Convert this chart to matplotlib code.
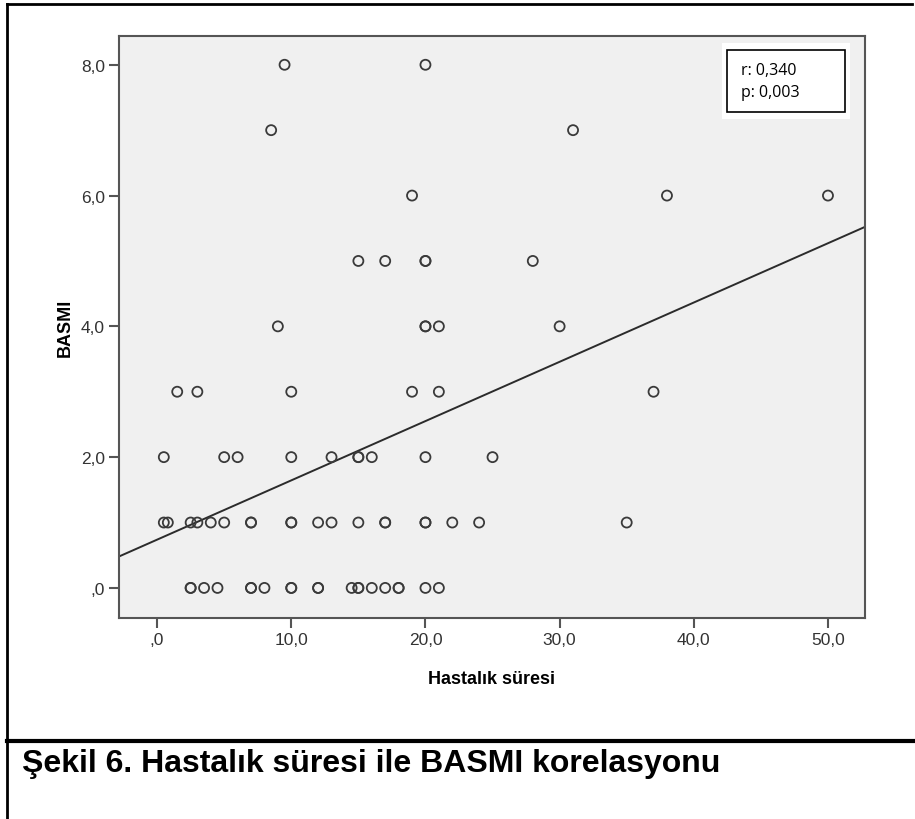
import numpy as np
import matplotlib
matplotlib.use("Agg")
import matplotlib.pyplot as plt
from matplotlib.lines import Line2D

# data (Hastalik suresi vs BASMI)
basmi_8 = [9.5, 20]
basmi_7 = [8.5, 31]
basmi_6 = [19, 38, 50]
basmi_5 = [15, 17, 20, 20, 28]
basmi_4 = [9, 20, 20, 21, 30]
basmi_3 = [1.5, 3, 10, 19, 21, 37]
basmi_2 = [0.5, 5, 6, 10, 13, 15, 15, 16, 20, 25]
basmi_1 = [0.5, 0.8, 2.5, 3, 4, 5, 7, 7, 10, 10, 12, 13, 15, 17, 17, 20, 20, 22, 24, 35]
basmi_0 = [2.5, 2.5, 3.5, 4.5, 7, 7, 8, 10, 10, 12, 12, 14.5, 15, 15, 16, 17, 18, 18, 20, 21]

groups = [basmi_0, basmi_1, basmi_2, basmi_3, basmi_4, basmi_5, basmi_6, basmi_7, basmi_8]
sure = np.concatenate([np.array(g, float) for g in groups])
basmi = np.concatenate([np.full(len(g), float(i)) for i, g in enumerate(groups)])

xticks = [0, 10, 20, 30, 40, 50]
xlabels = [',0', '10,0', '20,0', '30,0', '40,0', '50,0']
yticks = [0, 2, 4, 6, 8]
ylabels = [',0', '2,0', '4,0', '6,0', '8,0']

r_text = 'r: 0,340\np: 0,003'
caption = 'Şekil 6. Hastalık süresi ile BASMI korelasyonu'

fam = ['Liberation Sans', 'DejaVu Sans']

fig = plt.figure(figsize=(9.15, 8.2), dpi=100)
ax = fig.add_axes([119/915, 1-619/820, (865-119)/915, (619-37)/820])
ax.set_facecolor('#f0f0f0')

ax.scatter(sure, basmi, s=52, facecolors='none', edgecolors='#3a3a3a', linewidths=1.3, zorder=3)

xmin, xmax = -2.84, 52.76
ymin, ymax = -0.46, 8.44
# fit line
slope, intercept = np.polyfit(sure, basmi, 1)
xs = np.array([xmin, xmax])
ax.plot(xs, intercept + slope*xs, color='#2b2b2b', lw=1.4, zorder=2)

ax.set_xlim(xmin, xmax)
ax.set_ylim(ymin, ymax)
ax.set_xticks(xticks)
ax.set_xticklabels(xlabels, family=fam, fontsize=12.5, color='#333333')
ax.set_yticks(yticks)
ax.set_yticklabels(ylabels, family=fam, fontsize=12.5, color='#333333')
ax.tick_params(direction='out', length=7, width=1.5, color='#555555', pad=3)
for s in ax.spines.values():
    s.set_color('#555555')
    s.set_linewidth(1.5)

ax.set_xlabel('Hastalık süresi', family=fam, fontsize=13, fontweight='bold', labelpad=17)
ax.set_ylabel('BASMI', family=fam, fontsize=13, fontweight='bold', labelpad=5)

# r / p box
fig.patches.append(plt.Rectangle((722/915, 1-120/820), 128/915, 76/820, transform=fig.transFigure,
                                 facecolor='white', edgecolor='none', zorder=4))
fig.patches.append(plt.Rectangle((727/915, 1-113/820), 118/915, 62/820, transform=fig.transFigure,
                                 facecolor='white', edgecolor='black', lw=1.2, zorder=5))
fig.text(741/915, 1-82/820, r_text, fontsize=11.5, family=['Open Sans', 'DejaVu Sans'],
         va='center', ha='left', linespacing=1.45, zorder=6)

# frame lines of the panel
fig.add_artist(Line2D([7/915, 912/915], [1-5/820, 1-5/820], color='black', lw=2))
fig.add_artist(Line2D([7/915, 7/915], [0, 1-5/820], color='black', lw=2))
fig.add_artist(Line2D([7/915, 1], [1-742/820, 1-742/820], color='black', lw=3))

fig.text(22/915, 1-764/820, caption, family=fam, fontsize=23, fontweight='bold',
         va='center', ha='left')

fig.savefig('out.png', dpi=100)
